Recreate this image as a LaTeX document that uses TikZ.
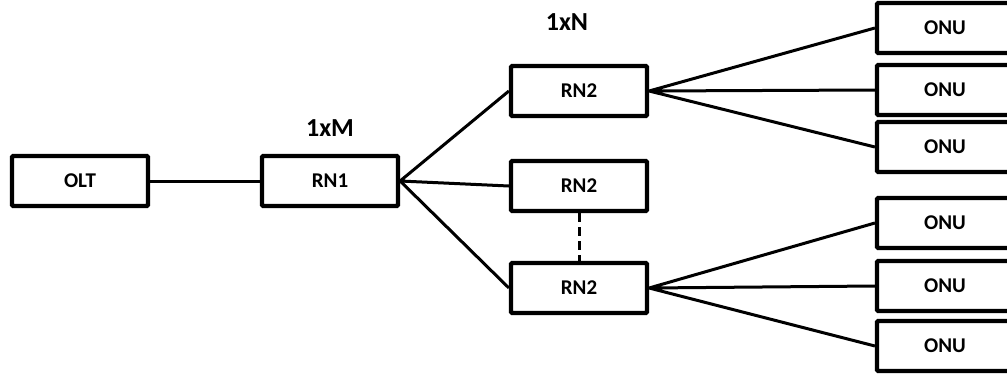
\documentclass[tikz,border=0pt]{standalone}
\usepackage{fontspec}
\setmainfont{Carlito}
\begin{document}
\begin{tikzpicture}[x=1pt, y=-1pt,
      box/.style={draw, line width=4.2pt, rounded corners=1pt, minimum width=136pt,
        minimum height=50pt, font=\bfseries\fontsize{21}{21}\selectfont},
      link/.style={line width=3pt},
      split/.style={font=\bfseries\fontsize{26}{26}\selectfont}]
\useasboundingbox (0, 0) rectangle (1007, 375);
\clip (0, 0) rectangle (1007, 375);

      \node[box] (olt) at (80, 181) {OLT};
      \node[box] (rn1) at (330, 181) {RN1};
      \node[split] (m) at (330, 128) {1xM};

      \node[box] (rna) at (579, 91) {RN2};
      \node[box] (rnb) at (579, 186) {RN2};
      \node[box] (rnc) at (579, 288) {RN2};
      \node[split] (n) at (567, 22) {1xN};

      \node[box] (onu1) at (945, 28) {ONU};
      \node[box] (onu2) at (945, 90) {ONU};
      \node[box] (onu3) at (945, 147) {ONU};
      \node[box] (onu4) at (945, 223) {ONU};
      \node[box] (onu5) at (945, 286) {ONU};
      \node[box] (onu6) at (945, 346) {ONU};

      \draw [link] (olt.east) -- (rn1.west);
      \draw [link] (rn1.east) -- (rna.west)
      (rn1.east) -- (rnb.west)
      (rn1.east) -- (rnc.west);
      \draw [link, dash pattern=on 9pt off 5pt] (rnb.south) -- (rnc.north);

      \draw [link] (rna.east) -- (onu1.west)
      (rna.east) -- (onu2.west)
      (rna.east) -- (onu3.west);
      \draw [link] (rnc.east) -- (onu4.west)
      (rnc.east) -- (onu5.west)
      (rnc.east) -- (onu6.west);
    \end{tikzpicture}
\end{document}
